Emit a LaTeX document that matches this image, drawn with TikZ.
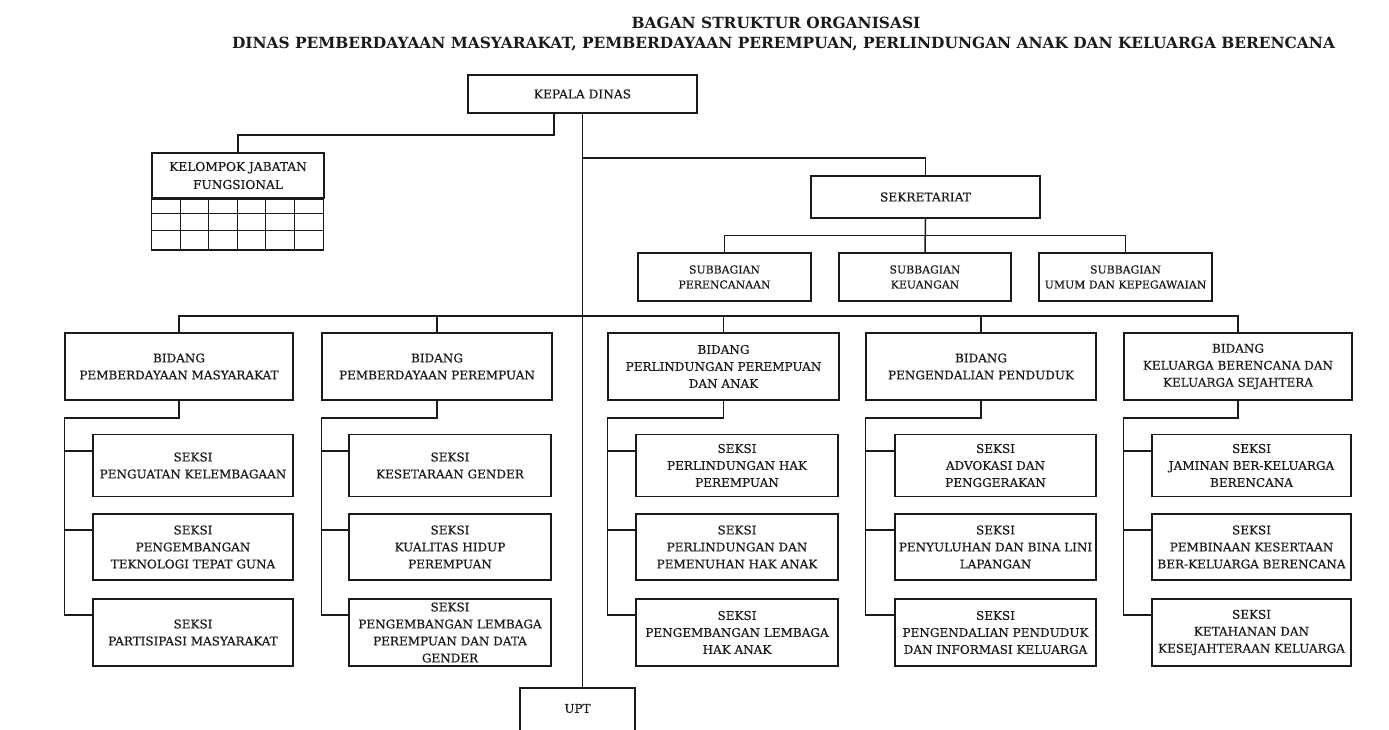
\documentclass[tikz,border=0pt]{standalone}
\usepackage{fontspec}
\setmainfont{DejaVu Serif}
\newfontfamily\boxfont{DejaVu Serif}[FakeBold=0.45]
\definecolor{ink}{HTML}{1A1A1A}
\tikzset{
  box/.style={draw=ink, line width=1.5pt, inner sep=0pt, align=center, text=ink,
    font=\boxfont\fontsize{12}{17}\selectfont},
  smallbox/.style={box, font=\boxfont\fontsize{10.9}{15}\selectfont},
  midbox/.style={box, font=\boxfont\fontsize{12.2}{18}\selectfont},
  wire/.style={draw=ink, line width=1.5pt},
  gridline/.style={draw=ink, line width=1.3pt},
  ttl/.style={anchor=base, text=ink, font=\bfseries\fontsize{15.4}{18}\selectfont},
  bid/.style={box, minimum height=67pt},
  sx/.style={box},
}
\begin{document}
\begin{tikzpicture}[x=1pt,y=-1pt]
\fill[white] (0,0) rectangle (1389,729);
\clip (0,0) rectangle (1389,729);

% titles
\node[ttl] (t1) at (776,28) {BAGAN STRUKTUR ORGANISASI};
\node[ttl] (t2) at (783.5,48.5) {DINAS PEMBERDAYAAN MASYARAKAT, PEMBERDAYAAN PEREMPUAN, PERLINDUNGAN ANAK DAN KELUARGA BERENCANA};

% top level
\node[midbox, minimum width=229pt, minimum height=38pt] (kepala) at (582.5,94) {KEPALA DINAS};
\node[midbox, minimum width=172pt, minimum height=45pt] (kjf) at (238,175.5) {KELOMPOK JABATAN\\FUNGSIONAL};
\draw[wire] (kjf.south west) rectangle ++(172,51);
\foreach \dx in {29,57,86,114,143} \draw[gridline] ([xshift=\dx pt]kjf.south west) -- ++(0,51);
\foreach \dy in {15,32} \draw[gridline] ([yshift=-\dy pt]kjf.south west) -- ++(172,0);

\node[midbox, minimum width=229pt, minimum height=42pt] (sek) at (925.5,197) {SEKRETARIAT};
\node[smallbox, minimum width=173pt, minimum height=48pt] (sb1) at (724.5,277) {SUBBAGIAN\\PERENCANAAN};
\node[smallbox, minimum width=172pt, minimum height=48pt] (sb2) at (925,277) {SUBBAGIAN\\KEUANGAN};
\node[smallbox, minimum width=173pt, minimum height=48pt] (sb3) at (1125.5,277) {SUBBAGIAN\\UMUM DAN KEPEGAWAIAN};

\node[box, anchor=north, minimum width=115pt, text height=25pt, text depth=35pt] (upt) at (577.5,687) {UPT};

% bidang
\node[bid, minimum width=228pt] (b1) at (179,366.5) {BIDANG\\PEMBERDAYAAN MASYARAKAT};
\node[bid, minimum width=230pt] (b2) at (437,366.5) {BIDANG\\PEMBERDAYAAN PEREMPUAN};
\node[bid, minimum width=231pt] (b3) at (723.5,366.5) {BIDANG\\PERLINDUNGAN PEREMPUAN\\DAN ANAK};
\node[bid, minimum width=230pt] (b4) at (981,366.5) {BIDANG\\PENGENDALIAN PENDUDUK};
\node[bid, minimum width=228pt] (b5) at (1238,366.5) {BIDANG\\KELUARGA BERENCANA DAN\\KELUARGA SEJAHTERA};

% seksi rows
\tikzset{r1/.style={sx, minimum height=62pt}, r2/.style={sx, minimum height=66pt}, r3/.style={sx, minimum height=67pt}}
\node[r1, minimum width=200pt] (s11) at (193,465.5) {SEKSI\\PENGUATAN KELEMBAGAAN};
\node[r2, minimum width=200pt] (s12) at (193,547) {SEKSI\\PENGEMBANGAN\\TEKNOLOGI TEPAT GUNA};
\node[r3, minimum width=200pt] (s13) at (193,632.5) {SEKSI\\PARTISIPASI MASYARAKAT};

\node[r1, minimum width=202pt] (s21) at (450,465.5) {SEKSI\\KESETARAAN GENDER};
\node[r2, minimum width=202pt] (s22) at (450,547) {SEKSI\\KUALITAS HIDUP\\PEREMPUAN};
\node[r3, minimum width=202pt] (s23) at (450,632.5) {SEKSI\\PENGEMBANGAN LEMBAGA\\PEREMPUAN DAN DATA\\GENDER};

\node[r1, minimum width=202pt] (s31) at (737,465.5) {SEKSI\\PERLINDUNGAN HAK\\PEREMPUAN};
\node[r2, minimum width=202pt] (s32) at (737,547) {SEKSI\\PERLINDUNGAN DAN\\PEMENUHAN HAK ANAK};
\node[r3, minimum width=202pt] (s33) at (737,632.5) {SEKSI\\PENGEMBANGAN LEMBAGA\\HAK ANAK};

\node[r1, minimum width=201pt] (s41) at (995.5,465.5) {SEKSI\\ADVOKASI DAN\\PENGGERAKAN};
\node[r2, minimum width=201pt] (s42) at (995.5,547) {SEKSI\\PENYULUHAN DAN BINA LINI\\LAPANGAN};
\node[r3, minimum width=201pt] (s43) at (995.5,632.5) {SEKSI\\PENGENDALIAN PENDUDUK\\DAN INFORMASI KELUARGA};

\node[r1, minimum width=199pt] (s51) at (1251.5,465.5) {SEKSI\\JAMINAN BER-KELUARGA\\BERENCANA};
\node[r2, minimum width=199pt] (s52) at (1251.5,547) {SEKSI\\PEMBINAAN KESERTAAN\\BER-KELUARGA BERENCANA};
\node[r3, minimum width=199pt] (s53) at (1251.5,632.5) {SEKSI\\KETAHANAN DAN\\KESEJAHTERAAN KELUARGA};

% connectors: top
\draw[wire] (kepala.south) -- (kepala.south |- upt.north);
\draw[wire] ([xshift=-28.5pt]kepala.south) -- ++(0,21) -| (kjf.north);
\draw[wire] (kepala.south |- 0,158) -| (sek.north);
\draw[wire] (sek.south) -- (sb2.north);
\draw[wire] (sb1.north) -- ++(0,-17) -| (sb3.north);

% bidang bus
\draw[wire] (b1.north) -- (b1.north |- 0,316) -- (b5.north |- 0,316) -- (b5.north);
\foreach \b in {b2,b3,b4} \draw[wire] (\b.north) -- (\b.north |- 0,316);

% brackets to seksi
\foreach \c in {1,2,3,4,5} {
  \draw[wire] (b\c.south) -- (b\c.south |- 0,418) -- (b\c.west |- 0,418) -- (b\c.west |- 0,615) -- (s\c3.west |- 0,615);
  \draw[wire] (b\c.west |- 0,451) -- (s\c1.west |- 0,451);
  \draw[wire] (b\c.west |- 0,530) -- (s\c2.west |- 0,530);
}
\end{tikzpicture}
\end{document}
